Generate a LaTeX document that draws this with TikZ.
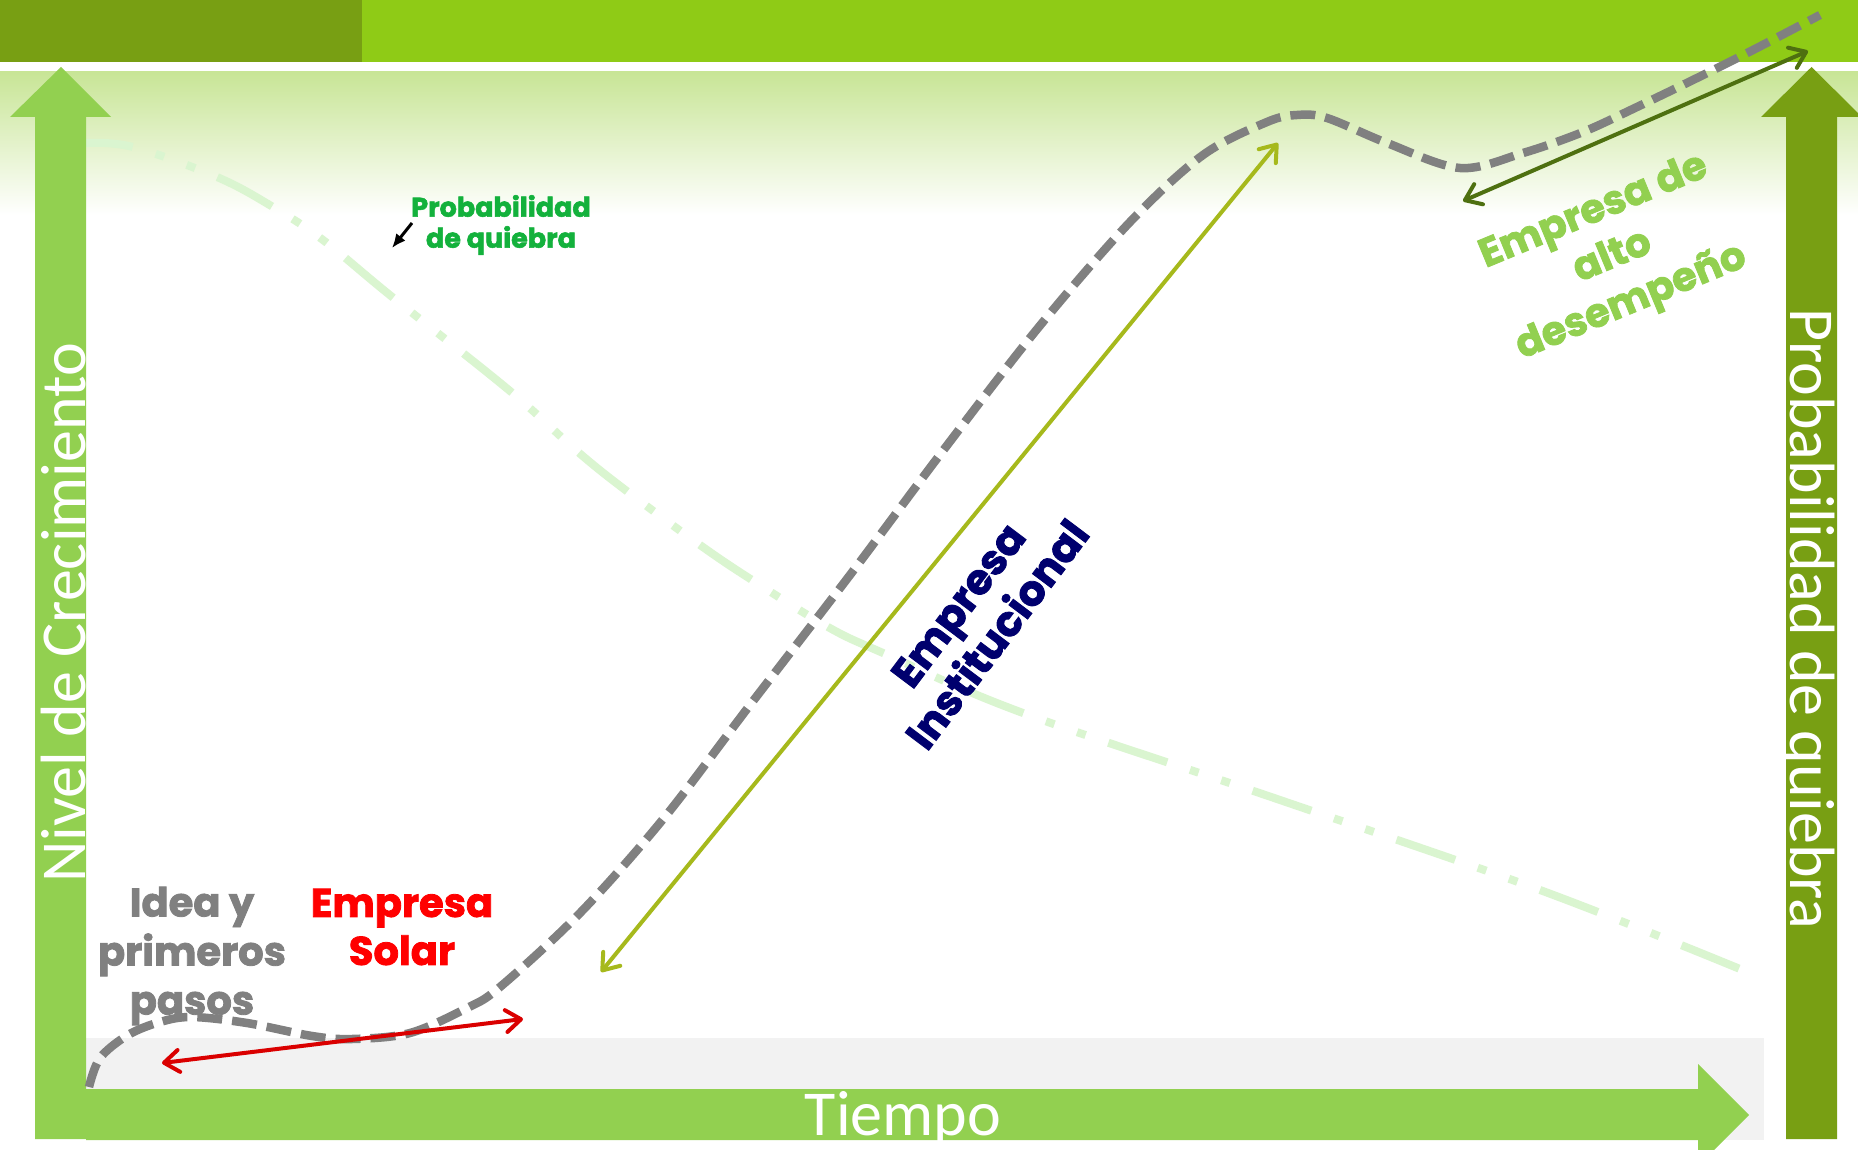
\documentclass[tikz,border=0pt]{standalone}
\usepackage{fontspec}
\setmainfont{Carlito}
\newfontfamily\bau{Poppins}[BoldFeatures={FakeBold=2}]
\usetikzlibrary{arrows.meta}
\definecolor{dkgreen}{HTML}{789F13}
\definecolor{brgreen}{HTML}{8FCB16}
\definecolor{axgreen}{HTML}{92D050}
\definecolor{gradgreen}{HTML}{C8E596}
\definecolor{bandgray}{HTML}{F2F2F2}
\definecolor{probline}{HTML}{DAF5D0}
\definecolor{curvegray}{HTML}{808080}
\definecolor{olivearrow}{HTML}{A6B91C}
\definecolor{darkolive}{HTML}{4E7010}
\definecolor{redarrow}{HTML}{DA0000}
\definecolor{navytext}{HTML}{00006E}
\definecolor{probtext}{HTML}{13B13C}
\tikzset{
  axistext/.style={font=\fontsize{64}{64}\selectfont, text=white, inner sep=0},
  bautext/.style={font=\bau\bfseries\fontsize{40}{48}\selectfont, align=center, inner sep=0},
  dblarrow/.style={line width=4, {Straight Barb[length=15,width=22,round]}-{Straight Barb[length=15,width=22,round]}},
}
\begin{document}
\begin{tikzpicture}[x=1pt,y=-1pt]
\useasboundingbox (0,0) rectangle (1858,1150);
\fill[white] (0,0) rectangle (1858,1150);
% background gradient
\shade[top color=gradgreen, bottom color=white] (0,72) rectangle (1858,215);
% top bar
\fill[brgreen] (0,0) rectangle (1858,62);
\fill[dkgreen] (0,0) rectangle (362,62);
% grey band
\fill[bandgray] (86,1038) rectangle (1764,1140);
% probability dash-dot line
\draw[probline, line width=8, dash pattern=on 62 off 24 on 9 off 24 on 9 off 24, dash phase=15]
  plot[smooth, tension=0.6] coordinates {(86,143) (133,147) (217,177) (273,207) (323,240) (391,296) (510,391) (578,452) (628,492) (700,545) (752,580) (828,627) (883,653) (1023,713) (1280,800) (1540,890) (1740,969)};
% axes arrows
\fill[axgreen] (35,1139) -- (35,117) -- (10,117) -- (61,67) -- (111,117) -- (86,117) -- (86,1139) -- cycle;
\fill[axgreen] (86,1089) -- (1698,1089) -- (1698,1064) -- (1749,1115) -- (1698,1166) -- (1698,1140) -- (86,1140) -- cycle;
\fill[dkgreen] (1786,1139) -- (1786,117) -- (1761,117) -- (1811.5,67) -- (1862,117) -- (1837,117) -- (1837,1139) -- cycle;
% axis labels
\node[axistext, rotate=90, anchor=base west] (nivel) at (85,883) {Nivel de Crecimiento};
\node[axistext, rotate=-90, anchor=base west] (probq) at (1790,308) {Probabilidad de quiebra};
\node[axistext, anchor=base] (tiempo) at (903,1135) {Tiempo};
% growth curve
\draw[curvegray, line width=8.5, dash pattern=on 25 off 10]
  plot[smooth, tension=0.55] coordinates {(89,1087) (100,1058) (128,1035) (160,1022) (192,1017) (247,1023) (312,1036) (352,1039) (410,1033) (467,1008) (500,987) (581,912) (664,818) (750,705) (850,575) (942,452) (1038,328) (1130,222) (1203,155) (1267,122) (1297,115) (1327,118) (1387,143) (1460,168) (1523,153) (1583,132) (1637,107) (1697,78) (1753,50) (1820,15)};
% stage arrows
\coordinate (redA) at (162,1063);
\coordinate (redB) at (523,1019);
\coordinate (olA) at (601,972);
\coordinate (olB) at (1278,143);
\coordinate (dgA) at (1463,201);
\coordinate (dgB) at (1808,51);
\draw[dblarrow, redarrow] (redA) -- (redB);
\draw[dblarrow, olivearrow] (olA) -- (olB);
\draw[dblarrow, darkolive] (dgA) -- (dgB);
% small label
\node[font=\bau\bfseries\fontsize{27}{31}\selectfont, text=probtext, align=center, inner sep=0] (problabel) at (501,225) {Probabilidad\\de quiebra};
\coordinate (pa) at (412,223);
\coordinate (pb) at (392,248);
\draw[line width=3, -{Latex[length=14,width=12]}] (pa) -- (pb);
% stage labels
\node[bautext, text=curvegray, font=\bau\bfseries\fontsize{40}{49}\selectfont] (idea) at (192,956) {Idea y\\primeros\\pasos};
\node[bautext, text=red] (solar) at (402,927) {Empresa\\Solar};
\node[bautext, text=navytext, rotate=53, font=\bau\bfseries\fontsize{42}{49}\selectfont] (inst) at (978,620) {Empresa\\Institucional};
\node[bautext, text=axgreen, rotate=22.5, font=\bau\bfseries\fontsize{40}{49}\selectfont] (alto) at (1613,258) {Empresa de\\alto\\desempeño};
\end{tikzpicture}
\end{document}
